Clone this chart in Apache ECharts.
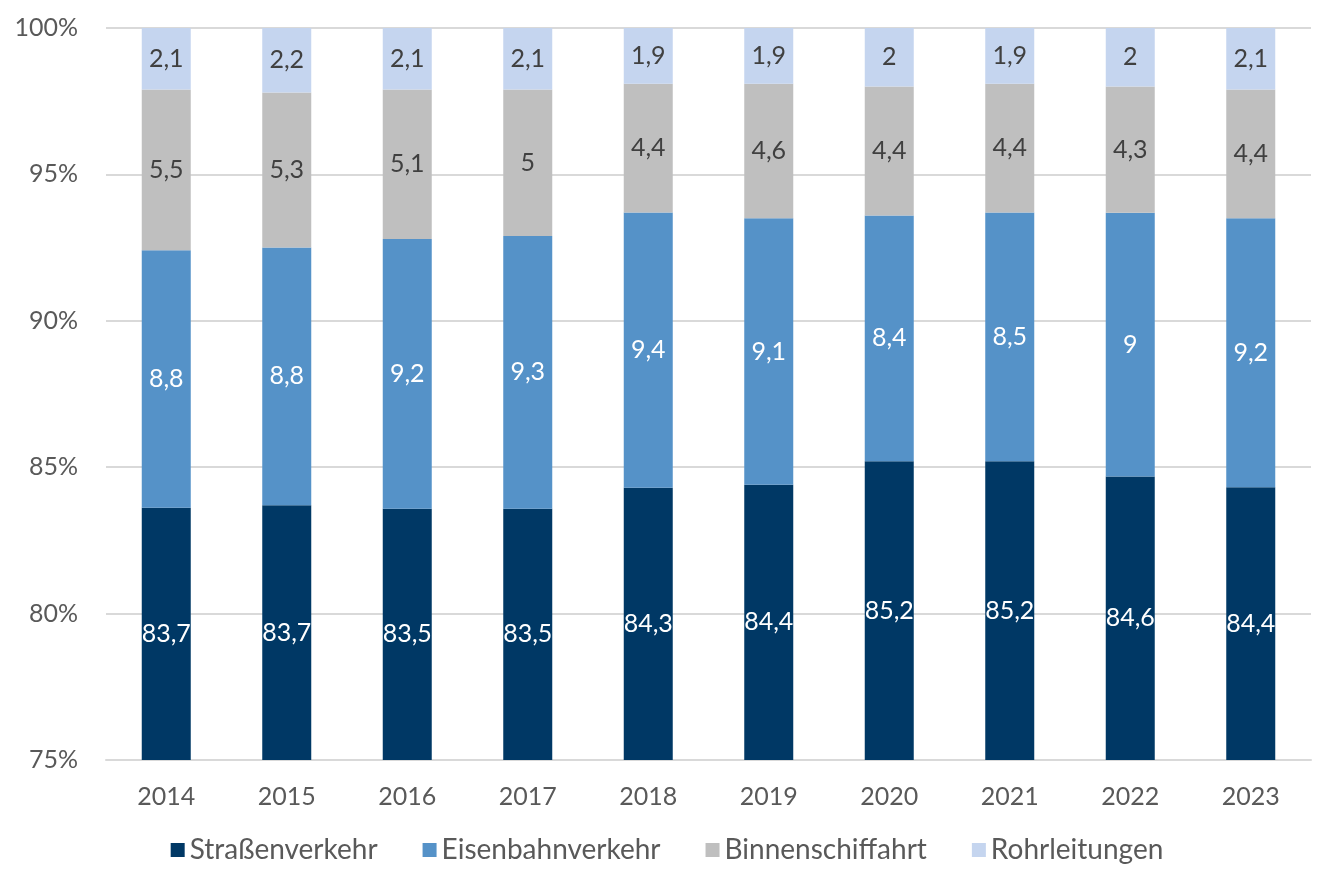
<!DOCTYPE html>
<html>
<head>
<meta charset="utf-8">
<script src="https://cdn.jsdelivr.net/npm/echarts@6/dist/echarts.min.js"></script>
<style>html,body{margin:0;padding:0;background:#fff}#c{width:1334px;height:889px}</style>
</head>
<body>
<div id="c"></div>
<script>
const years = ['2014','2015','2016','2017','2018','2019','2020','2021','2022','2023'];
const strassen = [83.7,83.7,83.5,83.5,84.3,84.4,85.2,85.2,84.6,84.4];
const eisenbahn = [8.8,8.8,9.2,9.3,9.4,9.1,8.4,8.5,9,9.2];
const binnen = [5.5,5.3,5.1,5,4.4,4.6,4.4,4.4,4.3,4.4];
const rohr = [2.1,2.2,2.1,2.1,1.9,1.9,2,1.9,2,2.1];
const yTicks = [75,80,85,90,95,100];

const totals = years.map((_, i) => strassen[i] + eisenbahn[i] + binnen[i] + rohr[i]);
const FONT = 'Lato';
function mk(name, raw, color, labelColor) {
  return {
    name, type: 'bar', stack: 'all', barWidth: 49, clip: true,
    data: raw.map((v, i) => ({ value: v / totals[i] * 100, raw: v })),
    itemStyle: { color },
    label: {
      show: true, position: 'inside', color: labelColor, fontFamily: FONT, fontSize: 25,
      textBorderWidth: 0,
      formatter: p => String(p.data.raw).replace('.', ',')
    }
  };
}
const chart = echarts.init(document.getElementById('c'));
chart.setOption({
  animation: false,
  textStyle: { fontFamily: FONT },
  grid: { left: 106, right: 23, top: 28, bottom: 129 },
  legend: {
    bottom: 20, left: 'center', itemWidth: 14, itemHeight: 14, itemGap: 45,
    icon: 'rect',
    textStyle: { color: '#595959', fontSize: 28, fontFamily: FONT },
    data: ['Straßenverkehr','Eisenbahnverkehr','Binnenschiffahrt','Rohrleitungen']
  },
  xAxis: {
    type: 'category', data: years,
    axisLine: { lineStyle: { color: '#d9d9d9', width: 2 } },
    axisTick: { show: false },
    axisLabel: { color: '#595959', fontSize: 25, margin: 24, fontFamily: FONT }
  },
  yAxis: {
    type: 'value', min: yTicks[0], max: yTicks[yTicks.length - 1], interval: 5,
    axisLine: { show: false }, axisTick: { show: false },
    splitLine: { lineStyle: { color: '#d9d9d9', width: 2 } },
    axisLabel: { color: '#595959', fontSize: 25, margin: 28, fontFamily: FONT, formatter: v => v + '%' }
  },
  series: [
    mk('Straßenverkehr', strassen, '#003865', '#ffffff'),
    mk('Eisenbahnverkehr', eisenbahn, '#5592c8', '#ffffff'),
    mk('Binnenschiffahrt', binnen, '#bfbfbf', '#404040'),
    mk('Rohrleitungen', rohr, '#c5d5ef', '#404040')
  ]
});
</script>
</body>
</html>
